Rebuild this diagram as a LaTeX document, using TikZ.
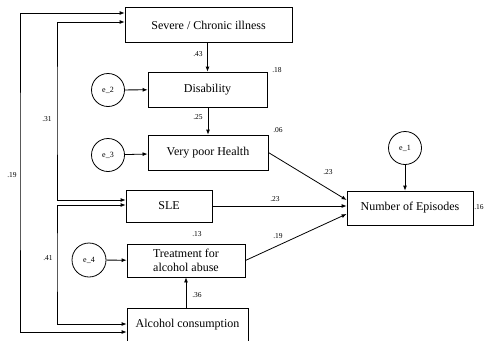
\documentclass[tikz,border=0pt]{standalone}
\usepackage{fontspec}
\setmainfont{Liberation Serif}
\usetikzlibrary{arrows.meta}

\begin{document}
\begin{tikzpicture}[x=1pt,y=-1pt,
    var/.style={draw, thick, minimum height=35pt, inner sep=2pt, font=\fontsize{12}{13.5}\selectfont},
    err/.style={draw, circle, thick, minimum size=33pt, inner sep=0pt, font=\fontsize{8}{9}\selectfont},
    lbl/.style={inner sep=0pt, font=\fontsize{7.5}{8}\selectfont},
    >={Latex[length=5pt,width=4pt]}]
\useasboundingbox (0,0) rectangle (486,340);
% observed variables
\node[var, minimum width=167pt] (sev) at (208.5,25) {Severe / Chronic illness};
\node[var, minimum width=119pt] (dis) at (207.5,89.5) {Disability};
\node[var, minimum width=120pt] (vph) at (208,152.5) {Very poor Health};
\node[var, minimum width=86pt, minimum height=32pt] (sle) at (169,206) {SLE};
\node[var, minimum width=118pt, minimum height=33pt, align=center] (trt) at (186,260.5) {Treatment for\\alcohol abuse};
\node[var, minimum width=121pt, minimum height=34pt] (alc) at (187.5,325) {Alcohol consumption};
\node[var, minimum width=126pt, minimum height=34pt] (eps) at (410,208) {Number of Episodes};
% error terms
\node[err] (e1) at (405,148) {e\_1};
\node[err] (e2) at (108,90) {e\_2};
\node[err] (e3) at (108,155) {e\_3};
\node[err, minimum size=34pt] (e4) at (89,260) {e\_4};
% paths
\draw[->, thick] (dis |- sev.south) -- (dis);
\draw[->, thick] (dis.south -| vph) -- (vph);
\draw[->, thick] (trt |- alc.north) -- (trt);
\draw[->, thick] (e1) -- (e1 |- eps.north);
\draw[->, thick] (e2) -- (dis);
\draw[->, thick] (e3) -- (vph);
\draw[->, thick] (e4) -- (trt);
\draw[->, thick] (vph.east) -- ([yshift=8pt]eps.west);
\draw[->, thick] (sle.east) -- (sle.east -| eps.west);
\draw[->, thick] (trt.east) -- ([yshift=-6pt]eps.west);
% covariances
\coordinate (outer) at (20,170);
\coordinate (inner) at (57,110);
\coordinate (inner2) at (57,260);
\draw[<->, thick] ([yshift=12pt]sev.west) -| (outer) |- ([yshift=-7pt]alc.west);
\draw[<->, thick] ([yshift=3pt]sev.west) -| (inner) |- ([yshift=6pt]sle.west);
\draw[<->, thick] ([yshift=1pt]sle.west) -| (inner2) |- ([yshift=1pt]alc.west);
% estimates
\foreach \x/\y/\t [count=\i] in {198/54/.43, 198/117/.25, 277/70/.18, 278/130/.06,
    197/234/.13, 197/295/.36, 328/172/.23, 275/199/.23, 278/236/.19,
    479/207/.16, 47/119/.31, 48/258/.41, 12/175/.19}
    \node[lbl] (w\i) at (\x,\y) {\t};
\end{tikzpicture}
\end{document}
